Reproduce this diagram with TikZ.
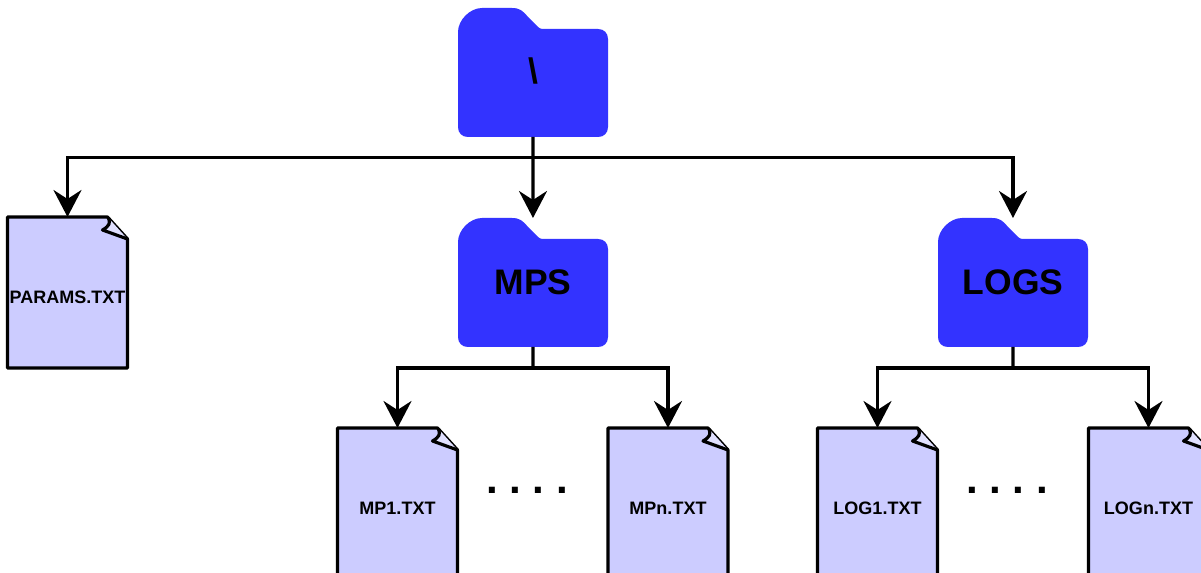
\documentclass[tikz,border=0pt]{standalone}
\usepackage{fontspec}
\setmainfont{Liberation Sans}
\usetikzlibrary{arrows.meta}

\definecolor{folderblue}{HTML}{3333FF}
\definecolor{filefill}{HTML}{CCCCFF}

\tikzset{
    folderbox/.style={minimum width=3cm,minimum height=2.58cm,inner sep=0pt,outer sep=0pt,anchor=north west,font=\fontsize{20.2}{24}\bfseries\selectfont},
    filebox/.style={minimum width=2.4cm,minimum height=3.02cm,inner sep=0pt,outer sep=0pt,anchor=north west,text height=0.44cm,text depth=0pt,font=\fontsize{10.25}{12}\bfseries\selectfont},
    fileline/.style={draw=black,line width=1.8pt,fill=filefill,line join=round},
    link/.style={line width=1.8pt},
    dotrow/.style={anchor=base,inner sep=0pt,outer sep=0pt,font=\fontsize{24}{28}\bfseries\selectfont\frenchspacing}
}

% folder outline and its name
\newcommand{\folderat}[4]{
    \fill[folderblue,shift={(#2,#3)}] (0,24) .. controls (0,12) and (12,0) .. (24,0) -- (54,0)
        .. controls (62,0) and (65,3) .. (70,9) -- (78,17) .. controls (81,20) and (82,21) .. (86,21)
        -- (140,21) .. controls (146,21) and (150,25) .. (150,31) -- (150,119)
        .. controls (150,125) and (146,129) .. (140,129) -- (10,129)
        .. controls (4,129) and (0,125) .. (0,119) -- cycle;
    \node[folderbox] (#1) at (#2,#3) {#4};
}

% sheet with a folded corner and its name
\newcommand{\fileat}[4]{
    \draw[fileline,shift={(#2,#3)}] (0,0) -- (100,0) -- (120,22) -- (120,151) -- (0,151) -- cycle;
    \draw[fileline,fill=white!40!filefill,shift={(#2,#3)}] (101,1) .. controls (103,6) and (102,9) .. (95,13) -- (120,22);
    \node[filebox] (#1) at (#2,#3) {#4};
}

\begin{document}
\begin{tikzpicture}[x=0.02cm,y=-0.02cm,>={Stealth[length=0.54cm,width=0.56cm,inset=0.18cm]}]
    \clip (0,0) rectangle (1201,573);

    \folderat{root}{458}{8}{\raisebox{1.7pt}{\textbackslash}}
    \folderat{mps}{458}{218}{MPS}
    \folderat{logs}{938}{218}{LOGS}

    \fileat{params}{7.5}{217}{PARAMS.TXT}
    \fileat{mpone}{337.5}{428}{MP1.TXT}
    \fileat{mpn}{608}{428}{MPn.TXT}
    \fileat{logone}{817.5}{428}{LOG1.TXT}
    \fileat{logn}{1088.5}{428}{LOGn.TXT}

    \node[dotrow] (mpdots) at (527,493.5) {. . . .};
    \node[dotrow] (logdots) at (1007,493.5) {. . . .};

    \coordinate (rootbus) at (533,157.5);
    \coordinate (mpsbus) at (533,368);
    \coordinate (logsbus) at (1013,368);

    \draw[link] (root.south) -- (rootbus);
    \draw[link,->] (rootbus) -| (params.north);
    \draw[link,->] (rootbus) -- (mps.north);
    \draw[link,->] (rootbus) -| (logs.north);

    \draw[link] (mps.south) -- (mpsbus);
    \draw[link,->] (mpsbus) -| (mpone.north);
    \draw[link,->] (mpsbus) -| (mpn.north);

    \draw[link] (logs.south) -- (logsbus);
    \draw[link,->] (logsbus) -| (logone.north);
    \draw[link,->] (logsbus) -| (logn.north);
\end{tikzpicture}
\end{document}
